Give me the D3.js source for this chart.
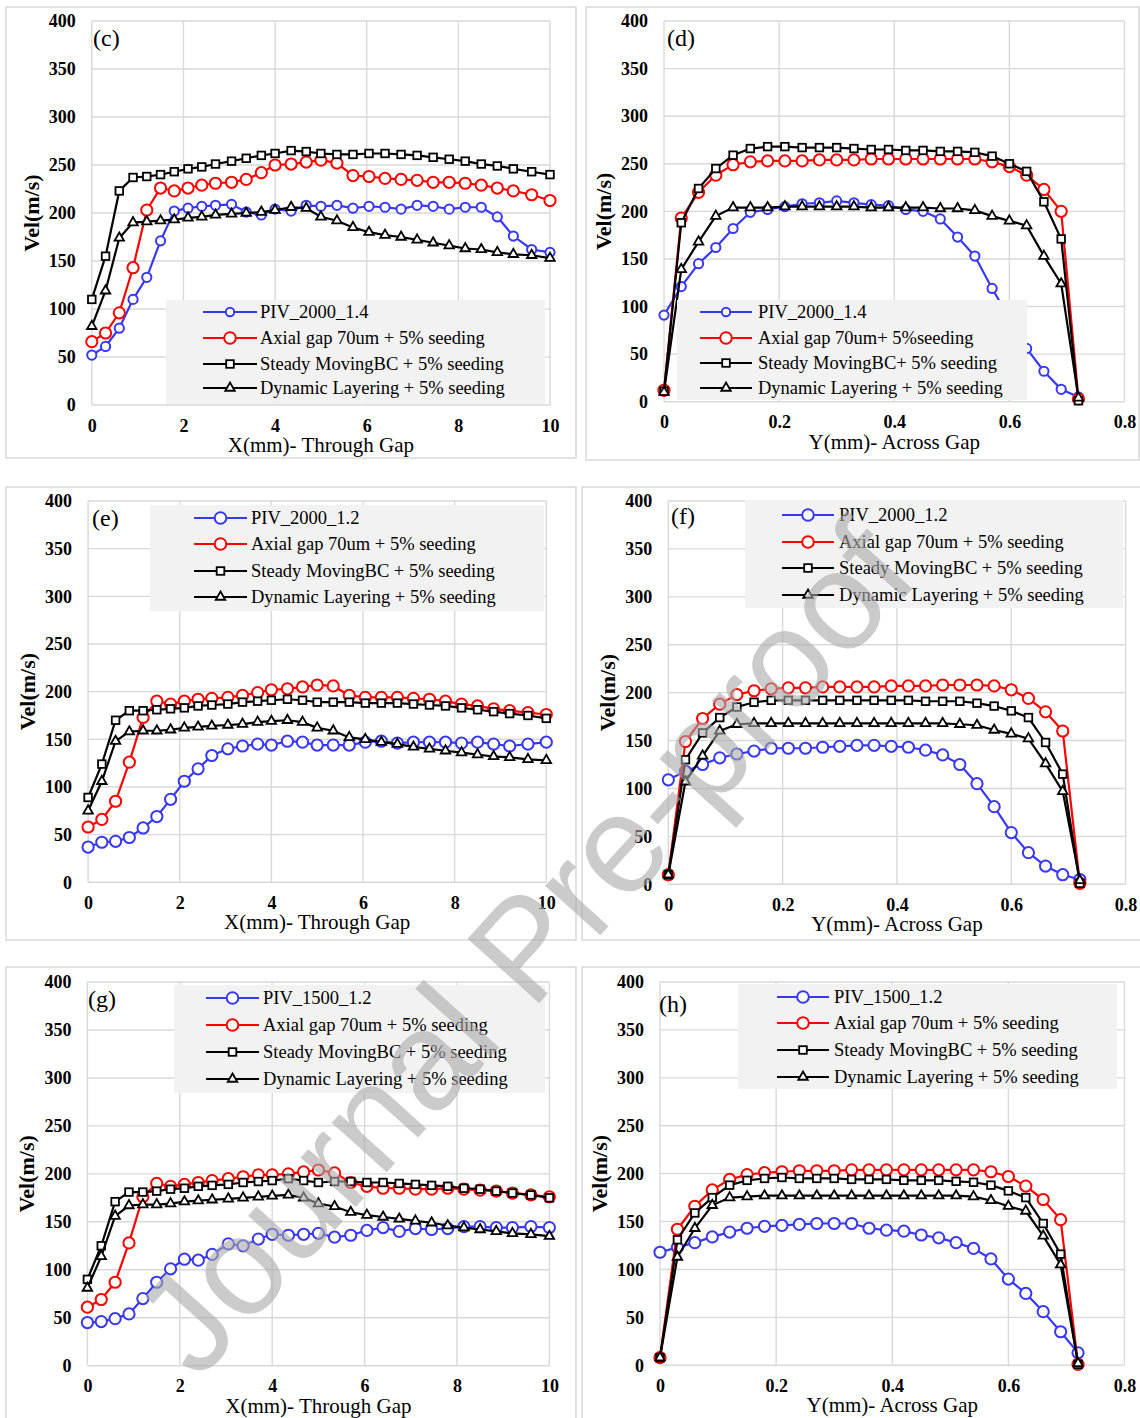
<!DOCTYPE html>
<html>
<head>
<meta charset="utf-8">
<script src="https://cdn.jsdelivr.net/npm/d3@7"></script>
<style>
  body { margin: 0; background: #fff; }
  svg { display: block; font-family: "Liberation Serif", "Times New Roman", serif; }
</style>
</head>
<body>
<svg id="chart" width="1140" height="1418"></svg>
<script>
const X_THROUGH = [0, 0.3, 0.6, 0.9, 1.2, 1.5, 1.8, 2.1, 2.4, 2.7, 3.05, 3.37, 3.7, 4.0, 4.35, 4.68,
  5.0, 5.35, 5.7, 6.05, 6.4, 6.75, 7.1, 7.45, 7.8, 8.15, 8.5, 8.85, 9.2, 9.6, 10];
const Y_ACROSS = [0, 0.03, 0.06, 0.09, 0.12, 0.15, 0.18, 0.21, 0.24, 0.27, 0.30, 0.33, 0.36,
  0.39, 0.42, 0.45, 0.48, 0.51, 0.54, 0.57, 0.60, 0.63, 0.66, 0.69, 0.72];

// (c)
const c_piv = [52, 61, 80, 110, 133, 171, 202, 205, 207, 208, 209, 201, 198, 204, 202, 208, 207, 208, 205, 207, 206, 204, 208, 207, 204, 206, 206, 196, 176, 162, 159];
const c_axial = [66, 75, 96, 143, 203, 226, 223, 226, 229, 231, 232, 235, 242, 250, 251, 253, 255, 252, 239, 238, 236, 235, 234, 232, 232, 231, 229, 226, 223, 219, 213];
const c_steady = [110, 155, 223, 237, 238, 240, 243, 246, 248, 251, 254, 257, 260, 262, 265, 264, 262, 261, 261, 262, 262, 261, 260, 258, 256, 254, 251, 249, 246, 243, 240];
const c_dynamic = [82, 119, 174, 190, 191, 192, 193, 195, 196, 198, 199, 200, 201, 203, 206, 205, 196, 192, 185, 180, 177, 175, 172, 169, 166, 163, 162, 159, 157, 156, 153];
// (d)
const d_piv = [91, 121, 145, 162, 182, 199, 202, 205, 208, 209, 211, 209, 207, 206, 202, 200, 192, 173, 153, 119, 88, 56, 32, 13, 5];
const d_axial = [12, 193, 220, 238, 249, 252, 253, 253, 253, 254, 254, 254, 255, 255, 255, 255, 255, 255, 255, 252, 247, 238, 223, 200, 3];
const d_steady = [11, 188, 224, 245, 259, 266, 268, 268, 267, 267, 267, 266, 265, 265, 264, 264, 263, 263, 262, 258, 250, 242, 210, 171, 1];
const d_dynamic = [10, 139, 168, 195, 204, 204, 204, 205, 205, 205, 205, 205, 204, 204, 204, 204, 203, 203, 201, 195, 190, 185, 153, 124, 4];
// (e)
const e_piv = [37, 42, 43, 47, 57, 69, 87, 106, 119, 133, 140, 143, 145, 144, 148, 147, 144, 144, 144, 147, 148, 146, 147, 147, 147, 146, 147, 145, 143, 145, 147];
const e_axial = [58, 66, 85, 126, 173, 190, 187, 190, 192, 193, 194, 196, 199, 202, 203, 205, 207, 206, 196, 194, 194, 194, 193, 192, 190, 187, 185, 182, 180, 178, 176];
const e_steady = [89, 124, 170, 180, 180, 181, 182, 183, 185, 186, 187, 189, 190, 191, 192, 191, 189, 189, 189, 188, 188, 188, 187, 186, 185, 183, 181, 179, 177, 175, 172];
const e_dynamic = [75, 106, 148, 158, 159, 159, 160, 162, 163, 164, 165, 166, 168, 169, 170, 168, 162, 159, 152, 150, 147, 145, 142, 140, 138, 136, 134, 132, 131, 129, 128];
// (f)
const f_piv = [109, 118, 125, 132, 136, 139, 142, 142, 142, 143, 144, 145, 145, 144, 143, 140, 135, 125, 105, 81, 54, 33, 19, 10, 5];
const f_axial = [10, 149, 173, 188, 198, 202, 204, 205, 205, 206, 206, 206, 206, 207, 207, 207, 208, 208, 208, 207, 203, 194, 180, 160, 1];
const f_steady = [10, 130, 158, 174, 185, 190, 192, 192, 192, 192, 192, 192, 192, 192, 192, 191, 191, 191, 189, 186, 181, 174, 148, 115, 1];
const f_dynamic = [10, 107, 134, 160, 167, 168, 168, 168, 168, 168, 168, 168, 168, 168, 168, 168, 168, 167, 166, 161, 157, 152, 126, 97, 4];
// (g)
const g_piv = [45, 46, 49, 54, 70, 87, 101, 111, 110, 116, 127, 125, 132, 137, 136, 137, 138, 134, 136, 141, 144, 140, 143, 142, 143, 145, 145, 144, 144, 145, 144];
const g_axial = [61, 69, 87, 128, 176, 190, 187, 189, 191, 193, 195, 197, 199, 199, 200, 202, 204, 201, 191, 187, 185, 185, 184, 184, 185, 184, 183, 182, 180, 178, 176];
const g_steady = [90, 125, 171, 181, 181, 182, 184, 185, 187, 188, 189, 191, 192, 193, 195, 193, 191, 192, 192, 191, 191, 190, 189, 188, 187, 185, 184, 182, 180, 178, 175];
const g_dynamic = [81, 114, 156, 167, 168, 168, 169, 171, 172, 173, 174, 175, 176, 177, 178, 175, 169, 166, 160, 157, 155, 153, 151, 149, 146, 144, 142, 140, 138, 137, 135];
// (h)
const h_piv = [118, 123, 128, 134, 139, 143, 145, 146, 147, 148, 148, 148, 143, 141, 140, 136, 133, 128, 122, 111, 90, 75, 56, 35, 13];
const h_axial = [8, 142, 166, 183, 194, 199, 201, 202, 203, 203, 203, 204, 204, 204, 204, 204, 204, 204, 204, 202, 197, 187, 173, 152, 1];
const h_steady = [8, 131, 159, 175, 188, 193, 195, 196, 195, 195, 195, 194, 194, 194, 193, 193, 193, 192, 191, 188, 182, 175, 148, 116, 1];
const h_dynamic = [8, 113, 143, 167, 175, 176, 177, 177, 177, 177, 177, 177, 177, 177, 177, 177, 177, 177, 176, 172, 166, 161, 135, 105, 2];

const Y_TICKS = [0, 50, 100, 150, 200, 250, 300, 350, 400];
const X_TICKS_THROUGH = [0, 2, 4, 6, 8, 10];
const X_TICKS_ACROSS = [0, 0.2, 0.4, 0.6, 0.8];

const NAMES_STD = ["Axial gap 70um + 5% seeding", "Steady MovingBC + 5% seeding", "Dynamic Layering + 5% seeding"];
const NAMES_D = ["Axial gap 70um+ 5%seeding", "Steady MovingBC+ 5% seeding", "Dynamic Layering + 5% seeding"];

const styles = [
  { color: "#3838f2", marker: "circle", size: 4.6 },
  { color: "#ff0000", marker: "circle", size: 5.6 },
  { color: "#000000", marker: "square", size: 7.6 },
  { color: "#000000", marker: "triangle", size: 9.5 }
];

const panels = [
  { label: "(c)", box: [6, 7, 576, 458], plot: [91.8, 550, 21, 405], xs: X_THROUGH, xmax: 10, xticks: X_TICKS_THROUGH,
    xTitle: "X(mm)- Through Gap", series: [c_piv, c_axial, c_steady, c_dynamic], names: ["PIV_2000_1.4", ...NAMES_STD],
    blueR: 4.6, legBlueR: 4.2,
    legend: { rect: [166, 300, 545, 404], rows: [312, 338, 364, 388], line: [203, 257], text: 260 }, lab: [93, 46] },
  { label: "(d)", box: [586, 7, 1139, 460], plot: [664, 1124.5, 21, 401.7], xs: Y_ACROSS, xmax: 0.8, xticks: X_TICKS_ACROSS,
    xTitle: "Y(mm)- Across Gap", series: [d_piv, d_axial, d_steady, d_dynamic], names: ["PIV_2000_1.4", ...NAMES_D],
    blueR: 4.6, legBlueR: 4.2,
    legend: { rect: [677, 300, 1027, 400], rows: [312, 338, 363, 388], line: [700, 752], text: 758 }, lab: [667, 46] },
  { label: "(e)", box: [6, 487, 576, 940], plot: [88.1, 546.3, 501, 882.3], xs: X_THROUGH, xmax: 10, xticks: X_TICKS_THROUGH,
    xTitle: "X(mm)- Through Gap", series: [e_piv, e_axial, e_steady, e_dynamic], names: ["PIV_2000_1.2", ...NAMES_STD],
    blueR: 5.6, legBlueR: 5.8,
    legend: { rect: [150, 505, 544, 611], rows: [518, 544, 571, 597], line: [194, 247], text: 251 }, lab: [92, 526] },
  { label: "(f)", box: [582, 487, 1141, 940], plot: [668.3, 1125.6, 501, 884.3], xs: Y_ACROSS, xmax: 0.8, xticks: X_TICKS_ACROSS,
    xTitle: "Y(mm)- Across Gap", series: [f_piv, f_axial, f_steady, f_dynamic], names: ["PIV_2000_1.2", ...NAMES_STD],
    blueR: 5.6, legBlueR: 5.8,
    legend: { rect: [745, 500, 1123, 608], rows: [515, 542, 568, 595], line: [782, 834], text: 839 }, lab: [671, 524] },
  { label: "(g)", box: [6, 967, 576, 1420], plot: [87.4, 549.4, 982, 1365.7], xs: X_THROUGH, xmax: 10, xticks: X_TICKS_THROUGH,
    xTitle: "X(mm)- Through Gap", series: [g_piv, g_axial, g_steady, g_dynamic], names: ["PIV_1500_1.2", ...NAMES_STD],
    blueR: 5.6, legBlueR: 5.8,
    legend: { rect: [174, 985, 545, 1093], rows: [998, 1025, 1052, 1079], line: [206, 259], text: 263 }, lab: [88, 1007] },
  { label: "(h)", box: [582, 967, 1141, 1420], plot: [660, 1124.5, 982, 1365.3], xs: Y_ACROSS, xmax: 0.8, xticks: X_TICKS_ACROSS,
    xTitle: "Y(mm)- Across Gap", series: [h_piv, h_axial, h_steady, h_dynamic], names: ["PIV_1500_1.2", ...NAMES_STD],
    blueR: 5.6, legBlueR: 5.8,
    legend: { rect: [738, 984, 1117, 1089], rows: [997, 1023, 1050, 1077], line: [777, 829], text: 834 }, lab: [659, 1012] }
];

const svg = d3.select("#chart");
const GRID = "#d9d9d9";

function drawMarker(g, type, size, color, x, y) {
  if (type === "circle") {
    g.append("circle").attr("cx", x).attr("cy", y).attr("r", size)
      .attr("fill", "#fff").attr("stroke", color).attr("stroke-width", 2);
  } else if (type === "square") {
    g.append("rect").attr("x", x - size / 2).attr("y", y - size / 2)
      .attr("width", size).attr("height", size)
      .attr("fill", "#fff").attr("stroke", color).attr("stroke-width", 1.8);
  } else {
    const h = size * Math.sqrt(3) / 2;
    g.append("path")
      .attr("d", `M${x},${y - h * 2 / 3}L${x + size / 2},${y + h / 3}L${x - size / 2},${y + h / 3}Z`)
      .attr("fill", "#fff").attr("stroke", color).attr("stroke-width", 1.8);
  }
}

panels.forEach(p => {
  const [bx0, by0, bx1, by1] = p.box;
  const [left, right, top, bottom] = p.plot;

  svg.append("rect").attr("x", bx0).attr("y", by0)
    .attr("width", bx1 - bx0).attr("height", by1 - by0)
    .attr("fill", "#fff").attr("stroke", GRID).attr("stroke-width", 1.5);

  const x = d3.scaleLinear().domain([0, p.xmax]).range([left, right]);
  const y = d3.scaleLinear().domain([0, 400]).range([bottom, top]);

  const g = svg.append("g");

  // gridlines
  g.append("g").selectAll("line").data(Y_TICKS).join("line")
    .attr("x1", left).attr("x2", right)
    .attr("y1", d => y(d)).attr("y2", d => y(d))
    .attr("stroke", GRID).attr("stroke-width", 1.4);
  g.append("g").selectAll("line").data(p.xticks).join("line")
    .attr("x1", d => x(d)).attr("x2", d => x(d))
    .attr("y1", top).attr("y2", bottom)
    .attr("stroke", GRID).attr("stroke-width", 1.4);

  // axes labels
  const yAxis = g.append("g").attr("transform", `translate(${left - 8},0)`)
    .call(d3.axisLeft(y).tickValues(Y_TICKS).tickSize(0).tickPadding(8));
  const xAxis = g.append("g").attr("transform", `translate(0,${bottom + 14})`)
    .call(d3.axisBottom(x).tickValues(p.xticks).tickSize(0).tickPadding(0).tickFormat(d3.format("")));
  [yAxis, xAxis].forEach(a => {
    a.select(".domain").remove();
    a.selectAll("text").attr("fill", "#000")
      .style("font-family", '"Liberation Serif", serif')
      .style("font-size", "18px").style("font-weight", "bold");
  });

  // titles
  g.append("text").attr("x", (left + right) / 2).attr("y", bottom + 47)
    .attr("text-anchor", "middle").style("font-size", "21px").text(p.xTitle);
  g.append("text")
    .attr("transform", `translate(${left - 61},${(top + bottom) / 2}) rotate(-90)`)
    .attr("text-anchor", "middle").attr("dy", "0.35em")
    .style("font-size", "22px").style("font-weight", "bold").text("Vel(m/s)");

  g.append("text").attr("x", p.lab[0]).attr("y", p.lab[1])
    .style("font-size", "24px").text(p.label);

  // series
  const line = d3.line().x((d, i) => x(p.xs[i])).y(d => y(d));
  p.series.forEach((vals, si) => {
    const st = styles[si];
    const size = si === 0 ? p.blueR : st.size;
    const sg = g.append("g");
    sg.append("path").datum(vals).attr("d", line)
      .attr("fill", "none").attr("stroke", st.color).attr("stroke-width", 2.2);
    vals.forEach((v, i) => drawMarker(sg, st.marker, size, st.color, x(p.xs[i]), y(v)));
  });

  // legend
  const L = p.legend;
  const lg = g.append("g");
  lg.append("rect").attr("x", L.rect[0]).attr("y", L.rect[1])
    .attr("width", L.rect[2] - L.rect[0]).attr("height", L.rect[3] - L.rect[1])
    .attr("fill", "#f2f2f2");
  p.names.forEach((name, i) => {
    const st = styles[i];
    const yy = L.rows[i];
    lg.append("line").attr("x1", L.line[0]).attr("x2", L.line[1])
      .attr("y1", yy).attr("y2", yy).attr("stroke", st.color).attr("stroke-width", 2.2);
    const legSize = i === 0 ? p.legBlueR : i === 1 ? 5.8 : st.size;
    drawMarker(lg, st.marker, legSize, st.color, (L.line[0] + L.line[1]) / 2, yy);
    lg.append("text").attr("x", L.text).attr("y", yy).attr("dy", "0.33em")
      .style("font-size", "18.5px").text(name);
  });
});

// watermark
svg.append("text")
  .attr("transform", "translate(560,980) rotate(-48)")
  .attr("text-anchor", "middle")
  .style("font-family", '"Liberation Sans", Arial, sans-serif')
  .style("font-size", "140px")
  .attr("fill", "#a8a8a8").attr("fill-opacity", 0.6)
  .text("Journal Pre-proof");
</script>
</body>
</html>
